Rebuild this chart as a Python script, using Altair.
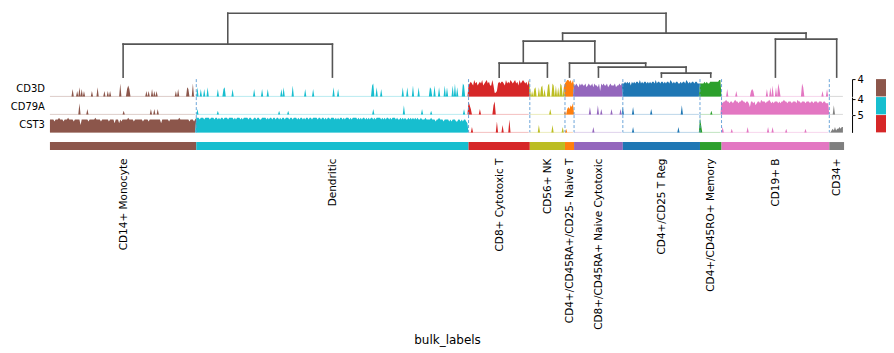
import altair as alt
import pandas as pd
import numpy as np

# ---------------- data ----------------
groups = ["CD14+ Monocyte", "Dendritic", "CD8+ Cytotoxic T", "CD56+ NK",
          "CD4+/CD45RA+/CD25- Naive T", "CD8+/CD45RA+ Naive Cytotoxic",
          "CD4+/CD25 T Reg", "CD4+/CD45RO+ Memory", "CD19+ B", "CD34+"]
counts = [129, 240, 54, 31, 8, 43, 68, 19, 95, 13]
colors = ["#8c564b", "#17becf", "#d62728", "#bcbd22", "#ff7f0e",
          "#9467bd", "#1f77b4", "#2ca02c", "#e377c2", "#7f7f7f"]

genes = ["CD3D", "CD79A", "CST3"]
gene_max = [3.9, 4.4, 4.8]        # expression reached by level 9
gene_ylim = [4.1, 4.6, 5.05]      # top of each track
gene_tick = [4, 4, 5]
gene_colors = ["#8c564b", "#17becf", "#d62728"]

# expression levels 0-9 per cell: strings = dense groups, dicts = sparse (cell: level)
CD3D_levels = [
    {20: 4, 24: 3, 26: 5, 28: 4, 30: 3, 37: 3, 42: 5, 48: 3, 51: 3, 53: 3, 62: 7, 68: 4, 69: 6,
     70: 4, 85: 3, 87: 3, 90: 4, 92: 3, 94: 3, 111: 3, 113: 4, 121: 5, 122: 4, 126: 7},
    {1: 5, 4: 4, 7: 4, 10: 5, 19: 4, 24: 4, 25: 5, 32: 4, 51: 4, 58: 4, 63: 4, 75: 4, 77: 5,
     85: 6, 96: 4, 103: 4, 121: 5, 125: 4, 155: 6, 156: 7, 159: 5, 163: 4, 182: 5, 186: 5,
     191: 6, 196: 5, 206: 5, 207: 4, 210: 6, 214: 5, 219: 6, 221: 5, 226: 6, 228: 7, 230: 5,
     235: 7, 236: 6},
    "6787697867 8796789786 6962237878 8769787987 8978697898 7869",
    "6030450050 5604006700 7606050760 5",
    "78998979",
    "6676576766 7567667576 6573767667 5676667566 767",
    "7787878687 8788797878 8787878879 7887887878 8798787887 7878879878 78878877",
    "7777878778 888888899",
    {5: 4, 13: 3, 26: 3, 27: 4, 28: 3, 40: 4, 43: 5, 45: 6, 48: 5, 50: 7, 51: 4, 71: 7, 72: 5,
     89: 3, 93: 4},
    {},
]
CD79A_levels = [
    {26: 6, 33: 3, 65: 2, 89: 3, 92: 3, 95: 3},
    {1: 3, 19: 2, 73: 2, 81: 2, 156: 3, 183: 5, 199: 3, 207: 2, 236: 3},
    {0: 7, 1: 5, 2: 3, 10: 3, 22: 5, 23: 7},
    {18: 3},
    "20343546",
    {14: 4, 21: 5, 24: 3, 33: 3, 41: 3},
    {0: 4, 9: 4, 25: 3, 52: 5},
    {10: 2},
    "7677877677 6787767787 7677647767 5677687776 7787676777 6767787767 7767776877 "
    "6777677767 7677767776 77666",
    {4: 5},
]
CST3_levels = [
    "7777677787 7767778777 7677777477 7777677777 8777767777 7767777577 7576777778 "
    "7777677777 7767777677 7777777757 7777767777 7777877777 777677767",
    "8887888788 8878887887 8788788878 8887878887 8788887887 7887887788 8878788788 "
    "7887878878 8878878887 8788787887 8878888788 7887878878 8878787887 8788878788 "
    "8878787887 8787887878 8887878788 7878887877 8787877878 7878787787 7787777877 "
    "7677877767 7776767776 6776767765",
    {3: 3, 25: 6, 30: 4, 36: 7},
    {8: 4, 20: 4, 29: 3},
    {1: 2},
    {17: 3},
    {9: 3, 49: 3},
    {0: 8, 1: 4},
    {1: 3, 9: 2, 23: 3, 41: 3, 45: 3, 57: 2, 74: 2},
    "0012131223 233",
]
all_levels = [CD3D_levels, CD79A_levels, CST3_levels]

# dendrogram: (left node, right node, height); leaves 0-9, new nodes numbered from 10
merges = [(0, 1, 0.516), (2, 3, 0.219), (6, 7, 0.0625), (5, 12, 0.156), (4, 13, 0.219),
          (11, 14, 0.5625), (8, 9, 0.594), (15, 16, 0.6875), (10, 17, 1.0)]

# ---------------- build tables ----------------
starts = np.concatenate([[0], np.cumsum(counts)[:-1]]).astype(int)
ends = np.cumsum(counts).astype(int)
centers = (starts + ends) / 2.0
NCELL = int(ends[-1])


def decode(spec, n, gmax):
    if isinstance(spec, str):
        d = spec.replace(" ", "")
        assert len(d) == n, (len(d), n)
        return [int(c) / 9 * gmax for c in d]
    vals = [0.0] * n
    for k, v in spec.items():
        vals[k] = v / 9 * gmax
    return vals


dom = groups
rng = colors
xscale = alt.Scale(domain=[0, NCELL], nice=False, zero=False)
W = 795
TH = 17.33

# dendrogram segments
slot = {i: 5 + 10 * i for i in range(len(groups))}
hgt = {i: 0.0 for i in range(len(groups))}
segs = []
for j, (a, b, h) in enumerate(merges):
    nid = len(groups) + j
    slot[nid] = (slot[a] + slot[b]) / 2
    hgt[nid] = h
    segs.append((slot[a], hgt[a], slot[a], h))
    segs.append((slot[b], hgt[b], slot[b], h))
    segs.append((slot[a], h, slot[b], h))
leaf_slots = [slot[i] for i in range(len(groups))]
seg_df = pd.DataFrame([
    {"x": float(np.interp(x1, leaf_slots, centers)), "y": y1,
     "x2": float(np.interp(x2, leaf_slots, centers)), "y2": y2}
    for (x1, y1, x2, y2) in segs])

dendro = alt.Chart(seg_df).mark_rule(color="#555555", strokeWidth=1.6, strokeCap="square").encode(
    x=alt.X("x:Q", scale=xscale, axis=None),
    x2="x2:Q",
    y=alt.Y("y:Q", scale=alt.Scale(domain=[-0.03125, 1.0], nice=False, zero=False), axis=None),
    y2="y2:Q",
).properties(width=W, height=66)

bounds_df = pd.DataFrame({"b": starts[1:]})
groups_df = pd.DataFrame({"group": groups, "start": starts, "end": ends,
                          "last": ends - 1, "center": centers})

tracks = []
for gi, gene in enumerate(genes):
    rows = []
    for k, grp in enumerate(groups):
        vals = decode(all_levels[gi][k], counts[k], gene_max[gi])
        for c, v in enumerate(vals):
            rows.append({"cell": int(starts[k]) + c, "value": v, "group": grp})
    df = pd.DataFrame(rows)
    area = alt.Chart(df).mark_area(interpolate="linear").encode(
        x=alt.X("cell:Q", scale=xscale, axis=None),
        y=alt.Y("value:Q", scale=alt.Scale(domain=[0, gene_ylim[gi]], nice=False),
                axis=alt.Axis(orient="right", values=[gene_tick[gi]], format="d", offset=8,
                              tickSize=3, labelFontSize=10, labelPadding=2, title=None,
                              grid=False, domainColor="black", tickColor="black",
                              labelColor="black", domainWidth=1)),
        color=alt.Color("group:N", scale=alt.Scale(domain=dom, range=rng), legend=None),
        detail="group:N",
    )
    base = alt.Chart(groups_df).mark_rule(opacity=0.3, strokeWidth=1).encode(
        x=alt.X("start:Q", scale=xscale, axis=None),
        x2="last:Q",
        y=alt.value(TH),
        color=alt.Color("group:N", scale=alt.Scale(domain=dom, range=rng), legend=None),
    )
    dashes = alt.Chart(bounds_df).mark_rule(color="#5b9bd5", strokeWidth=0.9,
                                            strokeDash=[3, 2]).encode(
        x=alt.X("b:Q", scale=xscale, axis=None),
        y=alt.value(0), y2=alt.value(TH),
    )
    lab = alt.Chart(pd.DataFrame({"gene": [gene]})).mark_text(
        align="right", baseline="middle", fontSize=10, color="black").encode(
        x=alt.value(-5), y=alt.value(TH / 2 + 1), text="gene:N")
    block = alt.Chart(pd.DataFrame({"gene": [gene]})).mark_rect(color=gene_colors[gi]).encode(
        x=alt.value(827), x2=alt.value(837), y=alt.value(0), y2=alt.value(TH))
    tracks.append(alt.layer(area, base, dashes, lab, block).properties(width=W, height=TH))

label_expr = ("[" + ",".join("'" + g + "'" for g in groups) + "][indexof(["
              + ",".join(str(c) for c in centers) + "], datum.value)]")
bar = alt.Chart(groups_df).mark_rect().encode(
    x=alt.X("start:Q", scale=xscale,
            axis=alt.Axis(values=list(centers), labelExpr=label_expr, labelAngle=-90,
                          labelAlign="right", labelBaseline="middle", ticks=False,
                          domain=False, grid=False, labelPadding=8, labelFontSize=10.5,
                          labelOverlap=False, labelFlush=False, labelColor="black",
                          title="bulk_labels", titleFontSize=12, titleFontWeight="normal",
                          titlePadding=5, titleColor="black")),
    x2="end:Q",
    y=alt.value(9), y2=alt.value(17),
    color=alt.Color("group:N", scale=alt.Scale(domain=dom, range=rng), legend=None),
).properties(width=W, height=17)

chart = alt.vconcat(dendro, *tracks, bar, spacing=0, bounds="flush").properties(
    padding={"left": 10, "top": 11, "right": 8, "bottom": 8}
).configure(font="DejaVu Sans").configure_view(stroke=None)

chart.save("out.html", embed_options={"renderer": "svg", "actions": False})
